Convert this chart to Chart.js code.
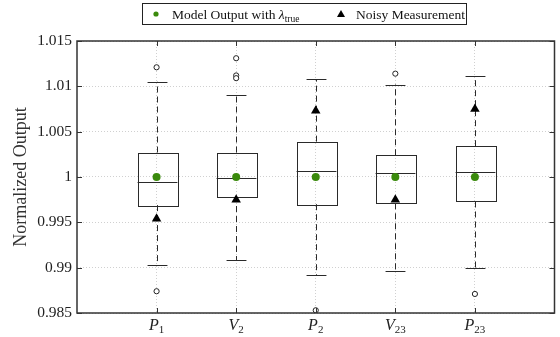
<!DOCTYPE html>
<html>
<head>
<meta charset="utf-8">
<script src="https://cdn.jsdelivr.net/npm/chart.js@4/dist/chart.umd.min.js"></script>
<style>
  html, body { margin: 0; padding: 0; background: #fff; }
  #wrap { width: 560px; height: 337px; }
</style>
</head>
<body>
<div id="wrap"><canvas id="chart" width="560" height="337"></canvas></div>
<script>
// categories (name + subscript) at x = 1..5
const catNames = ["P", "V", "P", "V", "P"];
const catSubs = ["1", "2", "2", "23", "23"];

// box plot statistics per category
const lowerWhisker = [0.9903, 0.9908, 0.9892, 0.9896, 0.9900];
const q1 = [0.9969, 0.9979, 0.9970, 0.9971, 0.9973];
const median = [0.9995, 0.9999, 1.0007, 1.0004, 1.0005];
const q3 = [1.0027, 1.0027, 1.0039, 1.0024, 1.0034];
const upperWhisker = [1.0105, 1.0090, 1.0108, 1.0102, 1.0111];

// outliers: [category index, value]
const outliers = [
  [1, 1.0121], [1, 0.9874],
  [2, 1.0131], [2, 1.0112], [2, 1.0109],
  [3, 0.9853],
  [4, 1.0114],
  [5, 0.9871]
];

// model output and noisy measurement
const modelOutput = [1.0, 1.0, 1.0, 1.0, 1.0];
const noisyMeasurement = [0.9954, 0.9975, 1.0073, 0.9975, 1.0075];

// y tick values and labels
const yTicks = [0.985, 0.99, 0.995, 1, 1.005, 1.01, 1.015];
const yTickLabels = ["0.985", "0.99", "0.995", "1", "1.005", "1.01", "1.015"];

const serif = "'Liberation Serif', 'DejaVu Serif', serif";
const green = "#3a8a0c";
const frame = "#333";

const toPoints = (arr) => arr.map((v, i) => ({ x: i + 1, y: v }));

const boxPlugin = {
  id: "boxes",
  beforeDatasetsDraw(chart) {
    const { ctx, scales: { x, y } } = chart;
    ctx.save();
    ctx.strokeStyle = "#2a2a2a";
    ctx.lineWidth = 1;
    for (let i = 0; i < median.length; i++) {
      const cx = Math.round(x.getPixelForValue(i + 1)) + 0.5;
      const halfBox = (x.getPixelForValue(1.25) - x.getPixelForValue(1));
      const halfCap = halfBox / 2;
      const yq1 = y.getPixelForValue(q1[i]);
      const yq3 = y.getPixelForValue(q3[i]);
      const ymed = y.getPixelForValue(median[i]);
      const ylo = y.getPixelForValue(lowerWhisker[i]);
      const yhi = y.getPixelForValue(upperWhisker[i]);

      // dashed whiskers
      ctx.setLineDash([6, 4]);
      ctx.beginPath();
      ctx.moveTo(cx, yq3);
      ctx.lineTo(cx, yhi);
      ctx.moveTo(cx, yq1);
      ctx.lineTo(cx, ylo);
      ctx.stroke();
      ctx.setLineDash([]);

      // caps
      ctx.beginPath();
      ctx.moveTo(cx - halfCap, Math.round(yhi) + 0.5);
      ctx.lineTo(cx + halfCap, Math.round(yhi) + 0.5);
      ctx.moveTo(cx - halfCap, Math.round(ylo) + 0.5);
      ctx.lineTo(cx + halfCap, Math.round(ylo) + 0.5);
      ctx.stroke();

      // box
      ctx.strokeRect(Math.round(cx - halfBox) + 0.5, Math.round(yq3) + 0.5,
        Math.round(2 * halfBox), Math.round(yq1 - yq3));
      // median
      ctx.beginPath();
      ctx.moveTo(cx - halfBox, Math.round(ymed) + 0.5);
      ctx.lineTo(cx + halfBox, Math.round(ymed) + 0.5);
      ctx.stroke();
    }
    ctx.restore();
  },
  afterDraw(chart) {
    const { ctx, chartArea: a, scales: { x, y } } = chart;
    ctx.save();

    // frame
    ctx.strokeStyle = frame;
    ctx.lineWidth = 1.5;
    ctx.strokeRect(a.left, a.top, a.right - a.left, a.bottom - a.top);

    // inward tick marks
    ctx.lineWidth = 1;
    ctx.beginPath();
    yTicks.forEach((v) => {
      const py = Math.round(y.getPixelForValue(v)) + 0.5;
      ctx.moveTo(a.left, py); ctx.lineTo(a.left + 5, py);
      ctx.moveTo(a.right, py); ctx.lineTo(a.right - 5, py);
    });
    catNames.forEach((n, i) => {
      const px = Math.round(x.getPixelForValue(i + 1)) + 0.5;
      ctx.moveTo(px, a.bottom); ctx.lineTo(px, a.bottom - 5);
      ctx.moveTo(px, a.top); ctx.lineTo(px, a.top + 5);
    });
    ctx.stroke();

    // x tick labels with subscripts
    ctx.fillStyle = "#222";
    ctx.textBaseline = "alphabetic";
    catNames.forEach((n, i) => {
      const px = x.getPixelForValue(i + 1);
      ctx.font = "italic 16px " + serif;
      const w1 = ctx.measureText(n).width;
      ctx.font = "11px " + serif;
      const w2 = ctx.measureText(catSubs[i]).width;
      const start = px - (w1 + w2) / 2;
      ctx.font = "italic 16px " + serif;
      ctx.textAlign = "left";
      ctx.fillText(n, start, a.bottom + 17);
      ctx.font = "11px " + serif;
      ctx.fillText(catSubs[i], start + w1, a.bottom + 20);
    });

    // y axis title
    ctx.save();
    ctx.translate(21, (a.top + a.bottom) / 2);
    ctx.rotate(-Math.PI / 2);
    ctx.textAlign = "center";
    ctx.textBaseline = "middle";
    ctx.font = "18px " + serif;
    ctx.fillStyle = "#333";
    ctx.fillText("Normalized Output", 0, 0);
    ctx.restore();

    // legend box
    const lx = 142, ly = 3, lw = 324, lh = 21;
    ctx.fillStyle = "#fff";
    ctx.fillRect(lx, ly, lw, lh);
    ctx.strokeStyle = "#222";
    ctx.lineWidth = 1;
    ctx.strokeRect(lx + 0.5, ly + 0.5, lw, lh);
    const cy = ly + lh / 2 + 0.5;
    ctx.fillStyle = green;
    ctx.beginPath();
    ctx.arc(156, cy, 2.6, 0, Math.PI * 2);
    ctx.fill();
    ctx.fillStyle = "#111";
    ctx.textAlign = "left";
    ctx.textBaseline = "alphabetic";
    const t1 = "Model Output with ";
    ctx.font = "13.5px " + serif;
    ctx.fillText(t1, 172, cy + 5);
    let tx = 172 + ctx.measureText(t1).width;
    ctx.font = "italic 13.5px " + serif;
    ctx.fillText("\u03BB", tx, cy + 5);
    tx += ctx.measureText("\u03BB").width;
    ctx.font = "9.5px " + serif;
    ctx.fillText("true", tx, cy + 8);
    // triangle marker
    const trx = 341;
    ctx.fillStyle = "#000";
    ctx.beginPath();
    ctx.moveTo(trx, cy - 4);
    ctx.lineTo(trx + 4, cy + 3);
    ctx.lineTo(trx - 4, cy + 3);
    ctx.closePath();
    ctx.fill();
    ctx.fillStyle = "#111";
    ctx.font = "13.5px " + serif;
    ctx.fillText("Noisy Measurement", 356, cy + 5);

    ctx.restore();
  }
};

const outlierPoints = outliers.map(([c, v]) => ({ x: c, y: v }));

new Chart(document.getElementById("chart"), {
  type: "scatter",
  data: {
    datasets: [
      {
        label: "Outliers",
        data: outlierPoints,
        pointStyle: "circle",
        pointRadius: 2.6,
        borderColor: "#222",
        backgroundColor: "#fff",
        borderWidth: 1,
        order: 3
      },
      {
        label: "Noisy Measurement",
        data: toPoints(noisyMeasurement),
        pointStyle: "triangle",
        pointRadius: 5.5,
        backgroundColor: "#000",
        borderColor: "#000",
        borderWidth: 0,
        order: 2
      },
      {
        label: "Model Output",
        data: toPoints(modelOutput),
        pointStyle: "circle",
        pointRadius: 4,
        backgroundColor: green,
        borderColor: green,
        borderWidth: 0,
        order: 1
      }
    ]
  },
  options: {
    responsive: false,
    animation: false,
    devicePixelRatio: 1,
    layout: { padding: { top: 41, right: 4, left: 0, bottom: 0 } },
    plugins: {
      legend: { display: false },
      tooltip: { enabled: false }
    },
    scales: {
      x: {
        type: "linear",
        min: 0,
        max: 6,
        afterBuildTicks: (s) => { s.ticks = catNames.map((n, i) => ({ value: i + 1 })); },
        afterFit: (s) => { s.height = 24; },
        ticks: { display: false },
        grid: { color: "#d0d0d0", lineWidth: 1, drawTicks: false },
        border: { display: false, dash: [1, 2] }
      },
      y: {
        min: 0.985,
        max: 1.015,
        afterBuildTicks: (s) => { s.ticks = yTicks.map((v) => ({ value: v })); },
        afterFit: (s) => { s.width = 77; },
        ticks: {
          padding: 5,
          autoSkip: false,
          color: "#222",
          font: { family: serif, size: 15.5 },
          callback: (v) => {
            const i = yTicks.findIndex((t) => Math.abs(t - v) < 1e-9);
            return i >= 0 ? yTickLabels[i] : "";
          }
        },
        grid: { color: "#d0d0d0", lineWidth: 1, drawTicks: false },
        border: { display: false, dash: [1, 2] }
      }
    }
  },
  plugins: [boxPlugin]
});
</script>
</body>
</html>
